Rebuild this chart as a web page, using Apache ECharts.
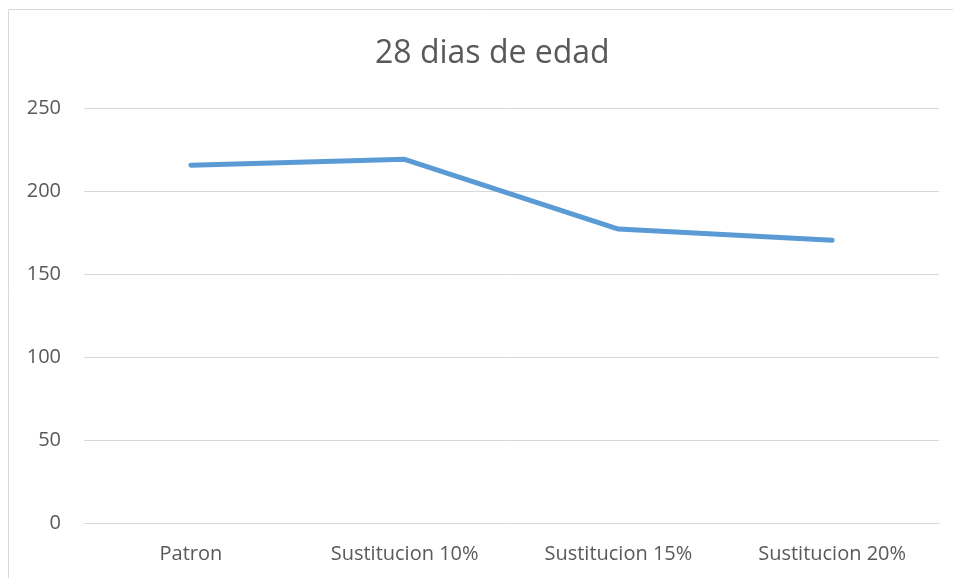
<!DOCTYPE html>
<html>
<head>
<meta charset="utf-8">
<script src="https://cdn.jsdelivr.net/npm/echarts@6/dist/echarts.min.js"></script>
<style>
  html, body { margin: 0; padding: 0; background: #fff; }
  #main { width: 953px; height: 578px; }
</style>
</head>
<body>
<div id="main"></div>
<script>
var categories = ['Patron', 'Sustitucion 10%', 'Sustitucion 15%', 'Sustitucion 20%'];
var values = [215.5, 219.1, 177.1, 170.3];
var yTicks = [0, 50, 100, 150, 200, 250];

var myChart = echarts.init(document.getElementById('main'));
var font = '"Open Sans", "Noto Sans", sans-serif';
var option = {
    backgroundColor: '#ffffff',
    animation: false,
    graphic: [{
        type: 'polyline',
        shape: { points: [[8.5, 600], [8.5, 9.5], [1000, 9.5]] },
        style: { fill: 'none', stroke: '#d9d9d9', lineWidth: 1 },
        silent: true
    }],
    title: {
        text: '28 dias de edad',
        left: 370,
        top: 33,
        textStyle: {
            color: '#595959',
            fontSize: 32,
            fontWeight: 'normal',
            fontFamily: font
        }
    },
    grid: { left: 84, right: 14, top: 108, bottom: 55 },
    xAxis: {
        type: 'category',
        data: categories,
        boundaryGap: true,
        axisLine: { lineStyle: { color: '#d9d9d9', width: 1 } },
        axisTick: { show: false },
        axisLabel: { color: '#595959', fontSize: 20, margin: 21, fontFamily: font }
    },
    yAxis: {
        type: 'value',
        min: yTicks[0],
        max: yTicks[yTicks.length - 1],
        interval: 50,
        axisLine: { show: false },
        axisTick: { show: false },
        splitLine: { lineStyle: { color: '#d9d9d9', width: 1 } },
        axisLabel: { color: '#595959', fontSize: 20, margin: 23, fontFamily: font }
    },
    series: [{
        type: 'line',
        data: values,
        symbol: 'none',
        lineStyle: { color: '#5b9bd5', width: 5, cap: 'round', join: 'round' },
        itemStyle: { color: '#5b9bd5' }
    }]
};
myChart.setOption(option);
</script>
</body>
</html>
